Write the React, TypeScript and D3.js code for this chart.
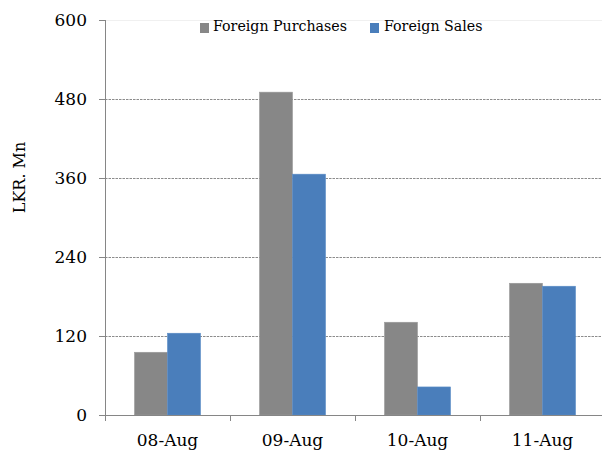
import React from "react";
import * as d3 from "d3";

const categories = ["08-Aug", "09-Aug", "10-Aug", "11-Aug"];
const seriesNames = ["Foreign Purchases", "Foreign Sales"];
const foreignPurchases = [95.3, 490.4, 140.9, 200.1];
const foreignSales = [124.2, 365.8, 42.6, 195.6];
const yTicks = [0, 120, 240, 360, 480, 600];

const W = 602;
const H = 452;
const left = 105;
const right = 605;
const top = 20;
const bottom = 415;
const colors = ["#878787", "#4a7ebb"];
const font = "'DejaVu Serif', serif";

export default function App() {
  const x = d3.scaleBand<string>().domain(categories).range([left, right]).paddingInner(0).paddingOuter(0);
  const y = d3.scaleLinear().domain([0, 600]).range([bottom, top]);
  const barW = 33;
  const series = [foreignPurchases, foreignSales];

  return (
    <div style={{ position: "fixed", left: 0, top: 0, width: W, height: H, background: "#fff" }}>
      <svg width={W} height={H} style={{ display: "block" }}>
        {/* gridlines */}
        {yTicks.filter((t) => t > 0).map((t) => (
          <line
            key={"g" + t}
            x1={left}
            x2={W}
            y1={Math.round(y(t)) + 0.5}
            y2={Math.round(y(t)) + 0.5}
            stroke={t === 600 ? "#f0f0f0" : "#8c8c8c"}
            strokeWidth={1}
            strokeDasharray={t === 600 ? undefined : "2.5,1"}
          />
        ))}
        {/* bars */}
        {categories.map((c, i) => {
          const cx = (x(c) as number) + x.bandwidth() / 2;
          return series.map((s, k) => (
            <rect
              key={c + k}
              x={cx - barW + k * barW}
              y={y(s[i])}
              width={barW}
              height={bottom - y(s[i])}
              fill={colors[k]}
              stroke={k === 0 ? "#9a9a9a" : "#5a8cc6"}
              strokeWidth={0.6}
            />
          ));
        })}
        {/* y axis */}
        <line x1={left + 0.5} x2={left + 0.5} y1={top} y2={bottom} stroke="#868686" />
        {yTicks.map((t) => (
          <g key={"yt" + t}>
            <line x1={left - 6} x2={left} y1={Math.round(y(t)) + 0.5} y2={Math.round(y(t)) + 0.5} stroke="#868686" />
            <text x={87} y={y(t) + 6} textAnchor="end" fontFamily={font} fontSize={17} fill="#000">
              {t}
            </text>
          </g>
        ))}
        {/* x axis */}
        <line x1={left} x2={W} y1={bottom + 0.5} y2={bottom + 0.5} stroke="#868686" />
        {categories.map((c) => (
          <line
            key={"xt" + c}
            x1={Math.round(x(c) as number) + 0.5}
            x2={Math.round(x(c) as number) + 0.5}
            y1={bottom}
            y2={bottom + 6}
            stroke="#868686"
          />
        ))}
        <line x1={right - 0.5} x2={right - 0.5} y1={bottom} y2={bottom + 6} stroke="#868686" />
        {categories.map((c) => (
          <text
            key={"xl" + c}
            x={(x(c) as number) + x.bandwidth() / 2}
            y={446}
            textAnchor="middle"
            fontFamily={font}
            fontSize={17}
            fill="#000"
          >
            {c}
          </text>
        ))}
        {/* y label */}
        <text
          transform={`translate(25,177.5) rotate(-90)`}
          textAnchor="middle"
          fontFamily={font}
          fontSize={16}
          fill="#000"
        >
          LKR. Mn
        </text>
        {/* legend */}
        <rect x={200} y={23} width={9} height={10} fill={colors[0]} />
        <text x={213} y={31} fontFamily={font} fontSize={14.2} fill="#000">
          {seriesNames[0]}
        </text>
        <rect x={370} y={23} width={9} height={10} fill={colors[1]} />
        <text x={384} y={31} fontFamily={font} fontSize={14.2} fill="#000">
          {seriesNames[1]}
        </text>
      </svg>
    </div>
  );
}
